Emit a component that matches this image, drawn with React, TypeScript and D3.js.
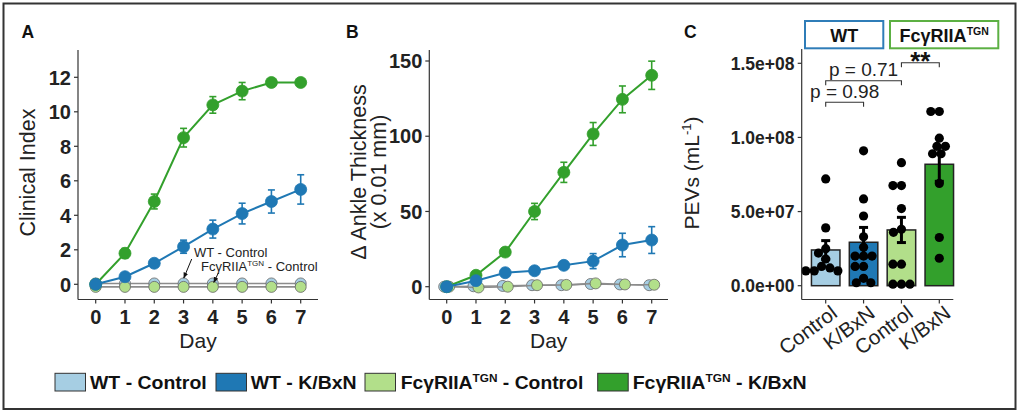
import React from 'react';
import * as d3 from 'd3';

const FONT = '"Liberation Sans", Arial, Helvetica, sans-serif';

// ---------- shared ----------
const days = [0, 1, 2, 3, 4, 5, 6, 7];
const seriesNames = ['WT - Control', 'WT - K/BxN', 'FcγRIIA{TGN} - Control', 'FcγRIIA{TGN} - K/BxN'];
const seriesColors = ['#a6cee3', '#1f78b4', '#b2df8a', '#33a02c'];

// ---------- Panel A: Clinical Index ----------
const clinWTCtrl = [0.05, 0.05, 0.05, 0.05, 0.05, 0.05, 0.05, 0.05];
const clinTGNCtrl = [-0.15, -0.15, -0.15, -0.15, -0.15, -0.15, -0.15, -0.15];
const clinWTKbxn = [0, 0.44, 1.22, 2.18, 3.2, 4.1, 4.8, 5.5];
const clinWTKbxnSE = [0, 0.1, 0.15, 0.38, 0.52, 0.6, 0.67, 0.85];
const clinTGNKbxn = [0, 1.8, 4.8, 8.5, 10.4, 11.2, 11.7, 11.7];
const clinTGNKbxnSE = [0, 0.28, 0.43, 0.54, 0.48, 0.5, 0.1, 0.1];
const clinYTicks = [0, 2, 4, 6, 8, 10, 12];

// ---------- Panel B: Ankle thickness ----------
const ankWTCtrl = [0, 0.3, 0.5, 1, 1, 1.8, 1.5, 1];
const ankTGNCtrl = [0, -0.5, 0, 1, 1.2, 2.2, 1.5, 1.3];
const ankWTKbxn = [0, 4, 9.3, 10.6, 14.2, 17, 27.7, 31];
const ankWTKbxnSE = [0, 1, 1, 1, 1.5, 5, 7.8, 8.9];
const ankTGNKbxn = [0, 7.6, 23, 50, 76, 101.5, 124.5, 140.5];
const ankTGNKbxnSE = [0, 1, 1.5, 5.4, 6.7, 7.6, 8.9, 9.4];
const ankYTicks = [0, 50, 100, 150];

// ---------- Panel C: PEVs ----------
const pevGroups = ['WT - Control', 'WT - K/BxN', 'FcγRIIA - Control', 'FcγRIIA - K/BxN'];
const pevTickLabels = ['Control', 'K/BxN', 'Control', 'K/BxN'];
const pevMean = [2.41e7, 2.93e7, 3.76e7, 8.19e7];
const pevSE = [0.63e7, 1.0e7, 0.85e7, 1.15e7];
const pevWTCtrlPts = [7.2e7, 3.9e7, 2.5e7, 2.2e7, 1.8e7, 1.3e7, 1.2e7, 1.0e7, 1.0e7, 1.0e7];
const pevWTKbxnPts = [9.1e7, 5.85e7, 4.7e7, 3.3e7, 2.6e7, 2.0e7, 2.0e7, 2.0e7, 1.3e7, 1.3e7, 0.5e7, 0.2e7, 0.2e7];
const pevTGNCtrlPts = [8.3e7, 6.75e7, 6.75e7, 5.2e7, 3.8e7, 3.6e7, 1.45e7, 1.45e7, 0.1e7, 0.1e7, 0.1e7];
const pevTGNKbxnPts = [11.75e7, 11.75e7, 9.95e7, 9.4e7, 9.4e7, 8.9e7, 8.9e7, 6.9e7, 3.25e7, 1.85e7];
const pevYTicks = [0, 5e7, 1e8, 1.5e8];
const pevYTickLabels = ['0.0e+00', '5.0e+07', '1.0e+08', '1.5e+08'];
const pevComparisons = [
  { a: 0, b: 1, label: 'p = 0.98', bold: false },
  { a: 0, b: 2, label: 'p = 0.71', bold: false },
  { a: 2, b: 3, label: '**', bold: true },
];
const stripLabels = ['WT', 'FcγRIIA{TGN}'];
const stripColors = ['#2f7db8', '#5cb043'];

// rich text with {superscript}
function rich(s: string, supSize: number, rise: number) {
  const parts = s.split(/\{([^}]*)\}/);
  const out: any[] = [];
  let up = false;
  parts.forEach((p, i) => {
    if (i % 2 === 1) {
      out.push(<tspan key={i} dy={-rise} fontSize={supSize}>{p}</tspan>);
      up = true;
    } else if (p) {
      out.push(<tspan key={i} dy={up ? rise : 0}>{p}</tspan>);
      up = false;
    }
  });
  return out;
}

type Series = { v: number[]; se?: number[]; color: string; line: string; r: number; stroke: string; dx: number };

function LinePanel(props: {
  x: d3.ScaleLinear<number, number>;
  y: d3.ScaleLinear<number, number>;
  axL: number; axR: number; axT: number; axB: number;
  yTicks: number[];
  series: Series[];
}) {
  const { x, y, axL, axR, axT, axB, yTicks, series } = props;
  const line = d3.line<[number, number]>();
  return (
    <g>
      {series.map((s, si) => {
        const pts: [number, number][] = days.map((d, i) => [x(d) + s.dx, y(s.v[i])]);
        return (
          <g key={si}>
            <path d={line(pts) || ''} fill="none" stroke={s.line} strokeWidth={s.se ? 2 : 1.6} />
            {s.se && days.map((d, i) => s.se![i] > 0 ? (
              <g key={i} stroke={s.color} strokeWidth={1.6}>
                <line x1={x(d)} x2={x(d)} y1={y(s.v[i] - s.se![i])} y2={y(s.v[i] + s.se![i])} />
                <line x1={x(d) - 3.5} x2={x(d) + 3.5} y1={y(s.v[i] - s.se![i])} y2={y(s.v[i] - s.se![i])} />
                <line x1={x(d) - 3.5} x2={x(d) + 3.5} y1={y(s.v[i] + s.se![i])} y2={y(s.v[i] + s.se![i])} />
              </g>
            ) : null)}
            {pts.map((p, i) => (
              <circle key={i} cx={p[0]} cy={p[1]} r={s.r} fill={s.color} stroke={s.stroke} strokeWidth={0.8} />
            ))}
          </g>
        );
      })}
      <line x1={axL} x2={axL} y1={axT} y2={axB} stroke="#333" strokeWidth={1.2} />
      <line x1={axL} x2={axR} y1={axB} y2={axB} stroke="#333" strokeWidth={1.2} />
      {yTicks.map((t) => (
        <g key={t}>
          <line x1={axL - 4} x2={axL} y1={y(t)} y2={y(t)} stroke="#333" strokeWidth={1.2} />
          <text x={axL - 7} y={y(t)} dy="0.36em" textAnchor="end" fontSize={20} fontWeight="bold" fill="#222">{t}</text>
        </g>
      ))}
      {days.map((d) => (
        <g key={d}>
          <line x1={x(d)} x2={x(d)} y1={axB} y2={axB + 4} stroke="#333" strokeWidth={1.2} />
          <text x={x(d)} y={axB + 24} textAnchor="middle" fontSize={20} fontWeight="bold" fill="#222">{d}</text>
        </g>
      ))}
      <text x={(axL + axR) / 2} y={348} textAnchor="middle" fontSize={21} fill="#222">Day</text>
    </g>
  );
}

function swarm(values: number[], cx: number, y: (v: number) => number, d: number) {
  const placed: { x: number; y: number }[] = [];
  const sorted = [...values].sort((a, b) => b - a);
  sorted.forEach((v) => {
    const py = y(v);
    const forb: [number, number][] = [];
    placed.forEach((p) => {
      const dy = Math.abs(p.y - py);
      if (dy < d) {
        const w = Math.sqrt(d * d - dy * dy);
        forb.push([p.x - w, p.x + w]);
      }
    });
    const cands = [0];
    forb.forEach(([a, b]) => { cands.push(a, b); });
    cands.sort((a, b) => Math.abs(a) - Math.abs(b));
    let best = 0;
    for (const c of cands) {
      if (forb.every(([a, b]) => c <= a + 1e-6 || c >= b - 1e-6)) { best = c; break; }
    }
    placed.push({ x: best, y: py });
  });
  return placed.map((p) => ({ x: cx + p.x, y: p.y }));
}

export default function App() {
  // Panel A
  const xA = d3.scaleLinear().domain([0, 7]).range([95.7, 300.7]);
  const yA = d3.scaleLinear().domain([0, 12]).range([284.3, 77.3]);
  // Panel B
  const xB = d3.scaleLinear().domain([0, 7]).range([446.7, 651.7]);
  const yB = d3.scaleLinear().domain([0, 150]).range([286.7, 61]);
  // Panel C
  const xC = d3.scalePoint<string>().domain(pevGroups).range([825.7, 939.3]);
  const yC = d3.scaleLinear().domain([0, 1.5e8]).range([285.7, 63.3]);
  const barW = 28.5;
  const pevPts = [pevWTCtrlPts, pevWTKbxnPts, pevTGNCtrlPts, pevTGNKbxnPts];

  const seriesA: Series[] = [
    { v: clinWTCtrl, color: seriesColors[0], line: '#8c8c8c', r: 5.5, stroke: '#666', dx: 0 },
    { v: clinTGNCtrl, color: seriesColors[2], line: '#8c8c8c', r: 5.5, stroke: '#666', dx: 0 },
    { v: clinTGNKbxn, se: clinTGNKbxnSE, color: seriesColors[3], line: seriesColors[3], r: 6, stroke: seriesColors[3], dx: 0 },
    { v: clinWTKbxn, se: clinWTKbxnSE, color: seriesColors[1], line: seriesColors[1], r: 6, stroke: seriesColors[1], dx: 0 },
  ];
  const seriesB: Series[] = [
    { v: ankWTCtrl, color: seriesColors[0], line: '#8c8c8c', r: 5.5, stroke: '#666', dx: -2.5 },
    { v: ankTGNCtrl, color: seriesColors[2], line: '#8c8c8c', r: 5.5, stroke: '#666', dx: 2.5 },
    { v: ankTGNKbxn, se: ankTGNKbxnSE, color: seriesColors[3], line: seriesColors[3], r: 6, stroke: seriesColors[3], dx: 0 },
    { v: ankWTKbxn, se: ankWTKbxnSE, color: seriesColors[1], line: seriesColors[1], r: 6, stroke: seriesColors[1], dx: 0 },
  ];

  const legendKeyX = [55, 216, 365, 597.7];
  const legendTextX = [90, 250.7, 400.7, 632.7];
  const legendTextW = [116.7, 106, 182.6, 174];

  return (
    <svg width={1020} height={413} style={{ position: 'absolute', left: 0, top: 0, background: '#fff' }} fontFamily={FONT}>
      <defs>
        <marker id="arr" viewBox="0 0 10 10" refX="9" refY="5" markerWidth="6" markerHeight="6" orient="auto">
          <path d="M0,1 L10,5 L0,9 z" fill="#111" />
        </marker>
      </defs>
      <rect x={0} y={0} width={1020} height={413} fill="#fff" />
      <rect x={3.5} y={3.5} width={1012} height={405.5} fill="none" stroke="#333" strokeWidth={2} />

      {/* Panel labels */}
      <text x={21.5} y={38} fontSize={17.5} fontWeight="bold" fill="#111">A</text>
      <text x={346} y={38} fontSize={17.5} fontWeight="bold" fill="#111">B</text>
      <text x={684} y={38} fontSize={17.5} fontWeight="bold" fill="#111">C</text>

      {/* Panel A */}
      <LinePanel x={xA} y={yA} axL={78} axR={318} axT={50} axB={299.5} yTicks={clinYTicks} series={seriesA} />
      <text transform={`translate(35,172.5) rotate(-90)`} textAnchor="middle" fontSize={21.5} fill="#222">Clinical Index</text>
      <text x={194} y={256.5} fontSize={13} fill="#222">WT - Control</text>
      <text x={201} y={270.7} fontSize={13} fill="#222">{rich('FcγRIIA{TGN} - Control', 8, 5)}</text>
      <line x1={191.7} y1={259} x2={183.8} y2={278} stroke="#111" strokeWidth={1} markerEnd="url(#arr)" />
      <line x1={218.3} y1={273} x2={213.8} y2={282.5} stroke="#111" strokeWidth={1} markerEnd="url(#arr)" />

      {/* Panel B */}
      <LinePanel x={xB} y={yB} axL={429.3} axR={668} axT={50} axB={299.5} yTicks={ankYTicks} series={seriesB} />
      <text transform={`translate(366,172) rotate(-90)`} textAnchor="middle" fontSize={21.5} fill="#222">Δ Ankle Thickness</text>
      <text transform={`translate(385.5,172) rotate(-90)`} textAnchor="middle" fontSize={21.5} fill="#222">(x 0.01 mm)</text>

      {/* Panel C */}
      <g>
        {pevGroups.map((g, i) => (
          <rect key={g} x={xC(g)! - barW / 2} y={yC(pevMean[i])} width={barW} height={yC(0) - yC(pevMean[i])}
            fill={seriesColors[i]} stroke="#222" strokeWidth={1.5} />
        ))}
        {pevGroups.map((g, i) => (
          <g key={g}>
            {swarm(pevPts[i], xC(g)!, (v) => yC(v), 8.5).map((p, j) => (
              <circle key={j} cx={p.x} cy={p.y} r={4.6} fill="#000" />
            ))}
          </g>
        ))}
        {pevGroups.map((g, i) => {
          const cx = xC(g)!;
          const lo = yC(pevMean[i] - pevSE[i]);
          const hi = yC(pevMean[i] + pevSE[i]);
          return (
            <g key={g} stroke="#000" strokeWidth={3}>
              <line x1={cx} x2={cx} y1={lo} y2={hi} />
              <line x1={cx - 4.5} x2={cx + 4.5} y1={lo} y2={lo} />
              <line x1={cx - 4.5} x2={cx + 4.5} y1={hi} y2={hi} />
            </g>
          );
        })}
        <line x1={801.7} x2={801.7} y1={49} y2={299.5} stroke="#333" strokeWidth={1.2} />
        <line x1={801.7} x2={953.3} y1={299.5} y2={299.5} stroke="#333" strokeWidth={1.2} />
        {pevYTicks.map((t, i) => (
          <g key={t}>
            <line x1={797.7} x2={801.7} y1={yC(t)} y2={yC(t)} stroke="#333" strokeWidth={1.2} />
            <text x={794.5} y={yC(t)} dy="0.36em" textAnchor="end" fontSize={17.5} fontWeight="bold" fill="#222">{pevYTickLabels[i]}</text>
          </g>
        ))}
        {pevGroups.map((g, i) => (
          <g key={g}>
            <line x1={xC(g)!} x2={xC(g)!} y1={299.5} y2={303.5} stroke="#333" strokeWidth={1.2} />
            <text transform={`translate(${xC(g)! + 4},304) rotate(-37)`} dy="0.72em" textAnchor="end" fontSize={20.5} fill="#222">{pevTickLabels[i]}</text>
          </g>
        ))}
        {/* comparisons */}
        {pevComparisons.map((c, k) => {
          const levels = [102.3, 80.7, 62.7];
          const hy = levels[k];
          const xa = xC(pevGroups[c.a])!;
          const xb = xC(pevGroups[c.b])!;
          return (
            <g key={k}>
              <path d={`M${xa},${hy + 4.5}V${hy}H${xb}V${hy + 4.5}`} fill="none" stroke="#333" strokeWidth={1.1} />
              {c.bold ? (
                <text x={(xa + xb) / 2} y={hy + 7} textAnchor="middle" fontSize={26} fontWeight="bold" fill="#111">{c.label}</text>
              ) : (
                <text x={(xa + xb) / 2} y={hy - 4.5} textAnchor="middle" fontSize={19} fill="#222">{c.label}</text>
              )}
            </g>
          );
        })}
        {/* strips */}
        <rect x={805} y={21} width={78.3} height={27.3} fill="#fff" stroke={stripColors[0]} strokeWidth={2} />
        <text x={844.2} y={41.5} textAnchor="middle" fontSize={18} fontWeight="bold" fill="#111">{rich(stripLabels[0], 10.5, 7)}</text>
        <rect x={890} y={21} width={108.3} height={27.3} fill="#fff" stroke={stripColors[1]} strokeWidth={2} />
        <text x={944.2} y={41.5} textAnchor="middle" fontSize={18} fontWeight="bold" fill="#111">{rich(stripLabels[1], 10.5, 7)}</text>
        <text transform={`translate(699,173) rotate(-90)`} textAnchor="middle" fontSize={21} fill="#222">{rich('PEVs (mL{-1})', 13, 8)}</text>
      </g>

      {/* Legend */}
      {seriesNames.map((n, i) => (
        <g key={n}>
          <rect x={legendKeyX[i]} y={373.3} width={30.5} height={17.7} fill={seriesColors[i]} stroke="#333" strokeWidth={1} />
          <text x={legendTextX[i]} y={389.3} fontSize={18} fontWeight="bold" fill="#111"
            textLength={legendTextW[i]} lengthAdjust="spacingAndGlyphs">{rich(n, 11, 7)}</text>
        </g>
      ))}
    </svg>
  );
}
